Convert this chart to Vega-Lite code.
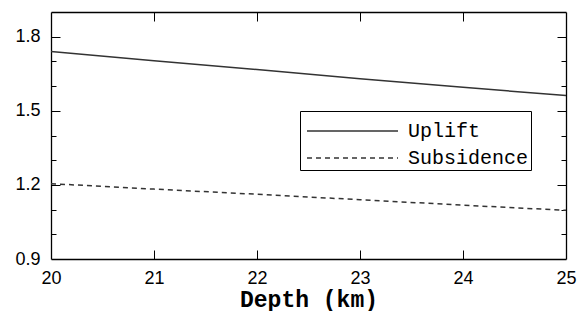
{
  "$schema": "https://vega.github.io/schema/vega-lite/v6.json",
  "width": 515,
  "height": 247,
  "autosize": {"type": "none"},
  "padding": {"left": 51, "top": 12, "right": 11, "bottom": 52},
  "background": "white",
  "config": {"view": {"stroke": null}, "axis": {"grid": false, "domain": false}},
  "data": {"values": [
    {"depth": 20, "value": 1.740, "series": "Uplift"},
    {"depth": 21, "value": 1.703, "series": "Uplift"},
    {"depth": 22, "value": 1.667, "series": "Uplift"},
    {"depth": 23, "value": 1.630, "series": "Uplift"},
    {"depth": 24, "value": 1.595, "series": "Uplift"},
    {"depth": 25, "value": 1.562, "series": "Uplift"},
    {"depth": 20, "value": 1.205, "series": "Subsidence"},
    {"depth": 21, "value": 1.183, "series": "Subsidence"},
    {"depth": 22, "value": 1.162, "series": "Subsidence"},
    {"depth": 23, "value": 1.140, "series": "Subsidence"},
    {"depth": 24, "value": 1.118, "series": "Subsidence"},
    {"depth": 25, "value": 1.097, "series": "Subsidence"}
  ]},
  "resolve": {"scale": {"x": "independent", "y": "independent"}, "axis": {"x": "independent", "y": "independent"}},
  "layer": [
    {
      "transform": [{"filter": "datum.series === 'Uplift'"}],
      "mark": {"type": "line", "strokeWidth": 1.5},
      "encoding": {
        "x": {"field": "depth", "type": "quantitative", "scale": {"domain": [20, 25], "nice": false, "zero": false},
          "axis": {"orient": "bottom", "values": [20, 21, 22, 23, 24, 25], "domain": true, "domainColor": "black", "domainWidth": 1.3, "ticks": false, "labelColor": "black", "labelFont": "Liberation Sans", "labelFontSize": 18, "labelPadding": 10, "labelFlush": false,
            "title": "Depth (km)", "titleFont": "Liberation Mono", "titleFontSize": 23, "titleFontWeight": "bold", "titlePadding": 1, "titleColor": "black"}},
        "y": {"field": "value", "type": "quantitative", "scale": {"domain": [0.9, 1.9], "nice": false, "zero": false},
          "axis": {"orient": "left", "values": [0.9, 1.2, 1.5, 1.8], "format": ".1f", "domain": true, "domainColor": "black", "domainWidth": 1.3, "ticks": false, "labelColor": "black", "labelFont": "Liberation Sans", "labelFontSize": 18, "labelPadding": 11, "title": null}},
        "color": {"field": "series", "type": "nominal",
          "scale": {"domain": ["Uplift", "Subsidence"], "range": ["#333333", "#333333"]},
          "legend": {"orient": "none", "legendX": 249, "legendY": 99, "title": " ", "titleFontSize": 6, "titlePadding": 2, "strokeColor": "black", "padding": 2,
            "symbolType": "M-1,0H17.2", "symbolSize": 100, "symbolStrokeWidth": 1.5, "symbolStrokeColor": "#333333", "symbolFillColor": "transparent",
            "labelFont": "Liberation Mono", "labelFontSize": 20, "labelColor": "black", "labelOffset": 86, "rowPadding": 7,
            "encode": {"symbols": {"update": {"strokeDash": {"signal": "datum.value === 'Subsidence' ? [5, 4] : [1, 0]"}, "stroke": {"value": "#333333"}, "fill": {"value": "transparent"}}}}}}
      }
    },
    {
      "transform": [{"filter": "datum.series === 'Subsidence'"}],
      "mark": {"type": "line", "strokeWidth": 1.5, "strokeDash": [5, 4]},
      "encoding": {
        "x": {"field": "depth", "type": "quantitative", "scale": {"domain": [20, 25], "nice": false, "zero": false},
          "axis": {"orient": "top", "values": [20, 25], "domain": true, "domainColor": "black", "domainWidth": 1.3, "ticks": false, "labels": false, "title": null}},
        "y": {"field": "value", "type": "quantitative", "scale": {"domain": [0.9, 1.9], "nice": false, "zero": false},
          "axis": {"orient": "right", "values": [0.9, 1.9], "domain": true, "domainColor": "black", "domainWidth": 1.3, "ticks": false, "labels": false, "title": null}},
        "color": {"field": "series", "type": "nominal"}
      }
    },
    {
      "mark": {"type": "line", "opacity": 0},
      "encoding": {
        "x": {"field": "depth", "type": "quantitative", "scale": {"domain": [20, 25], "nice": false, "zero": false},
          "axis": {"orient": "bottom", "values": [21, 22, 23, 24], "tickColor": "black", "tickSize": 9, "offset": -9, "labels": false, "title": null}},
        "y": {"field": "value", "type": "quantitative", "scale": {"domain": [0.9, 1.9], "nice": false, "zero": false},
          "axis": {"orient": "left", "values": [1.2, 1.5, 1.8], "tickColor": "black", "tickSize": 9, "offset": -9, "labels": false, "title": null}}
      }
    },
    {
      "mark": {"type": "line", "opacity": 0},
      "encoding": {
        "x": {"field": "depth", "type": "quantitative", "scale": {"domain": [20, 25], "nice": false, "zero": false},
          "axis": {"orient": "top", "values": [21, 22, 23, 24], "tickColor": "black", "tickSize": 9, "offset": -9, "labels": false, "title": null}},
        "y": {"field": "value", "type": "quantitative", "scale": {"domain": [0.9, 1.9], "nice": false, "zero": false},
          "axis": {"orient": "right", "values": [1.2, 1.5, 1.8], "tickColor": "black", "tickSize": 9, "offset": -9, "labels": false, "title": null}}
      }
    },
    {
      "mark": {"type": "line", "opacity": 0},
      "encoding": {
        "x": {"field": "depth", "type": "quantitative", "scale": {"domain": [20, 25], "nice": false, "zero": false}, "axis": null},
        "y": {"field": "value", "type": "quantitative", "scale": {"domain": [0.9, 1.9], "nice": false, "zero": false},
          "axis": {"orient": "left", "values": [1.0, 1.1, 1.3, 1.4, 1.6, 1.7], "tickColor": "black", "tickSize": 5, "offset": -5, "labels": false, "title": null}}
      }
    },
    {
      "mark": {"type": "line", "opacity": 0},
      "encoding": {
        "x": {"field": "depth", "type": "quantitative", "scale": {"domain": [20, 25], "nice": false, "zero": false}, "axis": null},
        "y": {"field": "value", "type": "quantitative", "scale": {"domain": [0.9, 1.9], "nice": false, "zero": false},
          "axis": {"orient": "right", "values": [1.0, 1.1, 1.3, 1.4, 1.6, 1.7], "tickColor": "black", "tickSize": 5, "offset": -5, "labels": false, "title": null}}
      }
    }
  ]
}
